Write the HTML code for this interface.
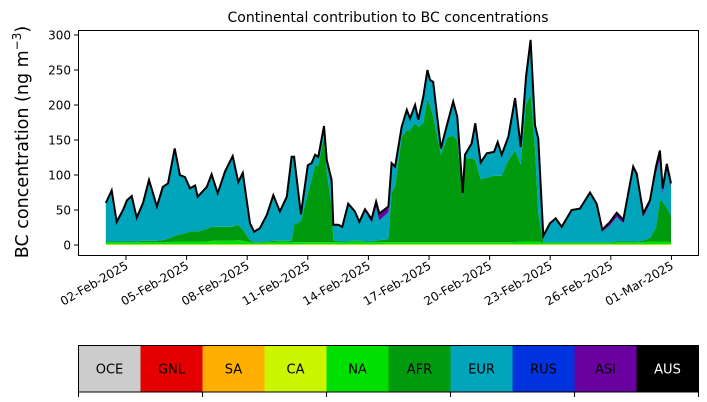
<!DOCTYPE html>
<html><head><meta charset="utf-8"><style>
body{margin:0;background:#fff;}
svg{display:block;font-family:"DejaVu Sans","Liberation Sans",sans-serif;}
</style></head><body>
<svg id="chart" width="707" height="402" viewBox="0 0 707 402" xmlns="http://www.w3.org/2000/svg">
<text x="388" y="22" font-size="14" text-anchor="middle">Continental contribution to BC concentrations</text>
<text transform="translate(28,142) rotate(-90)" font-size="17.5" text-anchor="middle">BC concentration (ng m<tspan font-size="12" dy="-7">−3</tspan><tspan dy="7">)</tspan></text>
<g id="areas"></g>
<g id="axes"></g>
<rect x="78.5" y="30.5" width="620" height="225" fill="none" stroke="#000" stroke-width="1"/>
<g id="legend"></g>
</svg>
<script>
const times=[0.0,0.29,0.54,0.85,1.05,1.28,1.53,1.84,2.14,2.53,
2.82,3.08,3.41,3.67,3.92,4.17,4.42,4.55,5.0,5.24,
5.54,5.9,6.28,6.56,6.78,7.14,7.34,7.63,7.97,8.29,
8.62,8.96,9.2,9.32,9.66,10.0,10.19,10.36,10.52,10.8,
10.94,11.18,11.26,11.51,11.71,12.0,12.33,12.55,12.83,13.16,
13.38,13.54,13.99,14.15,14.32,14.65,14.9,15.06,15.31,15.47,
15.72,15.92,16.05,16.21,16.59,16.91,17.2,17.4,17.67,17.78,
18.11,18.29,18.56,18.86,19.22,19.4,19.6,19.93,20.26,20.54,
20.8,21.03,21.25,21.41,21.66,21.99,22.27,22.57,23.06,23.47,
23.97,24.3,24.58,24.96,25.29,25.62,26.11,26.28,26.61,26.94,
27.24,27.43,27.57,27.77,27.98];
const total=[60,78,33,50,64,70,39,60,93,55,
83,88,138,100,97,81,85,69,83,101,
74,105,127,90,103,31,19,24,43,71,
48,69,126,126,44,114,117,129,126,170,
121,93,29,29,26,59,48,33,51,37,
62,45,55,117,112,169,193,181,200,179,
212,250,236,233,138,174,205,183,74,129,
145,174,118,131,133,147,129,155,210,140,
240,293,171,152,13,31,38,26,50,52,
75,59,22,33,46,36,112,102,45,64,
112,135,81,116,88];
const afr=[1,1,1,1,1,1,1,2,2,2,
3,5,8,10,12,14,15,14,18,20,
20,20,20,22,16,3,1,1,1,2,
1,1,2,25,30,70,90,110,110,150,
100,50,3,1,1,1,1,1,1,1,
2,3,4,70,80,150,160,160,170,165,
170,205,195,180,125,150,152,145,65,120,
120,117,90,92,95,95,95,117,131,110,
195,210,133,40,1,1,1,1,1,1,
1,1,1,1,1,1,1,1,2,5,
20,60,57,48,38];
const asi=[1,1,1,1,1,1,1,1,1,1,
1,1,1,1,1,1,1,1,1,1,
1,1,1,1,1,1,1,1,1,1,
1,1,1,1,1,1,1,1,1,1,
1,1,1,1,1,1,1,2,3,5,
8,10,8,3,2,2,1,1,1,1,
1,1,1,1,1,1,1,1,1,1,
1,1,1,1,1,1,1,1,1,1,
1,1,1,1,1,1,1,1,1,1,
2,3,3,5,6,5,4,3,5,5,
10,12,8,10,5];
const na=[3,3,3,3,3,3,3,3,3,3,
3,3,4,4,4,4,4,4,4,5,
5,5,5,6,5,3,2,2,3,3,
4,4,3,3,3,3,3,3,3,3,
3,3,3,3,3,3,4,4,3,3,
3,3,3,3,3,3,3,3,3,3,
3,3,3,3,3,3,3,3,3,3,
3,3,3,3,3,3,3,3,3,4,
4,4,4,4,2,2,2,2,2,2,
2,2,2,2,3,3,3,3,3,4,
4,4,4,4,3];
const ca=times.map(()=>1);
const tickDays=[1,4,7,10,13,16,19,22,25,28];
const tickLabels=["02-Feb-2025","05-Feb-2025","08-Feb-2025","11-Feb-2025","14-Feb-2025","17-Feb-2025","20-Feb-2025","23-Feb-2025","26-Feb-2025","01-Mar-2025"];
const yTicks=[0,50,100,150,200,250,300];
const regions=["OCE","GNL","SA","CA","NA","AFR","EUR","RUS","ASI","AUS"];
const regionColors=["#cccccc","#e50000","#ffaf00","#ccf500","#00e000","#009a0e","#00a4bb","#0033dd","#6a00a0","#000000"];

const NS="http://www.w3.org/2000/svg";
const X=t=>105.8+20.2*t;
const Y=v=>245-0.7*v;
const areas=document.getElementById('areas');
const eur=total.map((v,i)=>Math.max(0,v-ca[i]-na[i]-afr[i]-asi[i]));
const layers=[["CA",ca,"#ccf500"],["NA",na,"#00e000"],["AFR",afr,"#009a0e"],["EUR",eur,"#00a4bb"],["ASI",asi,"#6a00a0"]];
let base=times.map(()=>0);
layers.forEach(([nm,arr,col])=>{
  const top=base.map((b,i)=>b+arr[i]);
  let pts=times.map((t,i)=>X(t).toFixed(1)+","+Y(top[i]).toFixed(1));
  for(let i=times.length-1;i>=0;i--) pts.push(X(times[i]).toFixed(1)+","+Y(base[i]).toFixed(1));
  const p=document.createElementNS(NS,'polygon');
  p.setAttribute('points',pts.join(' '));
  p.setAttribute('fill',col);
  
  
  areas.appendChild(p);
  base=top;
});
const line=document.createElementNS(NS,'polyline');
line.setAttribute('points',times.map((t,i)=>X(t).toFixed(1)+","+Y(base[i]).toFixed(1)).join(' '));
line.setAttribute('fill','none');line.setAttribute('stroke','#000');line.setAttribute('stroke-width','2');


areas.appendChild(line);

const axes=document.getElementById('axes');
yTicks.forEach(v=>{
  const l=document.createElementNS(NS,'line');
  l.setAttribute('x1',74);l.setAttribute('x2',78.5);l.setAttribute('y1',Y(v));l.setAttribute('y2',Y(v));l.setAttribute('stroke','#000');
  
  
  axes.appendChild(l);
  const tx=document.createElementNS(NS,'text');
  tx.setAttribute('x',71);tx.setAttribute('y',Y(v)+4.5);tx.setAttribute('font-size','12');tx.setAttribute('text-anchor','end');
  tx.textContent=v;
  
  
  axes.appendChild(tx);
});
tickDays.forEach((d,i)=>{
  const x=X(d);
  const l=document.createElementNS(NS,'line');
  l.setAttribute('x1',x);l.setAttribute('x2',x);l.setAttribute('y1',255.5);l.setAttribute('y2',260);l.setAttribute('stroke','#000');
  
  
  axes.appendChild(l);
  const tx=document.createElementNS(NS,'text');
  tx.setAttribute('transform','translate('+(x+3)+',268) rotate(-30)');
  tx.setAttribute('font-size','12');tx.setAttribute('text-anchor','end');
  tx.textContent=tickLabels[i];
  
  
  axes.appendChild(tx);
});

const lg=document.getElementById('legend');
const cw=62,lx=78.5,ly=345.5,lh=46.5;
regions.forEach((r,i)=>{
  const rc=document.createElementNS(NS,'rect');
  rc.setAttribute('x',lx+i*cw);rc.setAttribute('y',ly);rc.setAttribute('width',cw);rc.setAttribute('height',lh);rc.setAttribute('fill',regionColors[i]);
  
  
  lg.appendChild(rc);
  const tx=document.createElementNS(NS,'text');
  tx.setAttribute('x',lx+i*cw+cw/2);tx.setAttribute('y',ly+lh/2+4.5);tx.setAttribute('font-size','13');tx.setAttribute('text-anchor','middle');
  tx.setAttribute('fill',r==="AUS"?"#fff":"#000");
  tx.textContent=r;
  
  
  lg.appendChild(tx);
});
const fr=document.createElementNS(NS,'rect');
fr.setAttribute('x',lx);fr.setAttribute('y',ly);fr.setAttribute('width',cw*10);fr.setAttribute('height',lh);fr.setAttribute('fill','none');fr.setAttribute('stroke','#000');


lg.appendChild(fr);
for(let k=0;k<=5;k++){
  const l=document.createElementNS(NS,'line');
  const x=lx+k*2*cw;
  l.setAttribute('x1',x);l.setAttribute('x2',x);l.setAttribute('y1',ly+lh);l.setAttribute('y2',ly+lh+5);l.setAttribute('stroke','#000');
  
  
  lg.appendChild(l);
}
</script>
</body></html>
